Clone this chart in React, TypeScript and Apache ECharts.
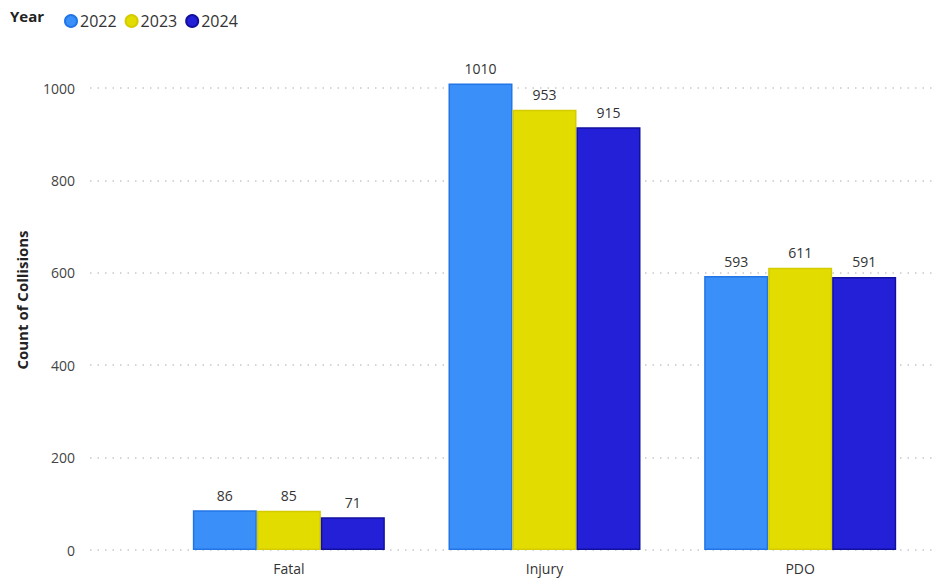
import React, { useEffect, useRef } from "react";
import * as echarts from "echarts";

const categories = ["Fatal", "Injury", "PDO"];
const years = ["2022", "2023", "2024"];
const values2022 = [86, 1010, 593];
const values2023 = [85, 953, 611];
const values2024 = [71, 915, 591];
const yTicks = [0, 200, 400, 600, 800, 1000];

const colors = ["#3a8ff8", "#e3dc00", "#2420d8"];
const borders = ["#2275e6", "#d4cc00", "#12109e"];

export default function App() {
  const ref = useRef<HTMLDivElement>(null);
  useEffect(() => {
    if (!ref.current) return;
    const chart = echarts.init(ref.current, undefined, { renderer: "svg" });
    const font = "'Open Sans', 'Noto Sans', sans-serif";
    const seriesData = [values2022, values2023, values2024];
    chart.setOption({
      animation: false,
      textStyle: { fontFamily: font },
      graphic: [
        {
          type: "text",
          left: 10,
          top: 8,
          style: { text: "Year", font: `bold 15px ${font}`, fill: "#222" },
        },
        {
          type: "text",
          x: 22,
          y: 300,
          rotation: Math.PI / 2,
          style: {
            text: "Count of Collisions",
            font: `bold 15px ${font}`,
            fill: "#222",
            align: "center",
            verticalAlign: "middle",
          },
        },
      ],
      legend: {
        left: 59,
        top: 8,
        icon: "circle",
        itemWidth: 12,
        itemHeight: 12,
        itemGap: 8,
        textStyle: { fontSize: 16, color: "#333", fontFamily: font, padding: [0, 0, 0, -2] },
        data: years,
      },
      grid: [
        { left: 90, right: 6, top: 88, bottom: 34 },
        { left: 161, right: 12, top: 550 - 1.1 * 462, bottom: 34 },
      ],
      xAxis: [
        { gridIndex: 0, type: "category", data: categories, show: false },
        {
          gridIndex: 1,
          type: "category",
          data: categories,
          axisLine: { show: false },
          axisTick: { show: false },
          axisLabel: { fontSize: 14, color: "#333", margin: 11, fontFamily: font },
        },
      ],
      yAxis: [
        {
          gridIndex: 0,
          type: "value",
          min: 0,
          max: 1000,
          interval: 200,
          axisLine: { show: false },
          axisTick: { show: false },
          axisLabel: {
            fontSize: 14,
            color: "#444",
            margin: 15,
            fontFamily: font,
            formatter: (v: number) => (yTicks.includes(v) ? String(v) : ""),
          },
          splitLine: { lineStyle: { color: "#c8c8c8", type: [1.5, 6], width: 1.5 } },
        },
        {
          gridIndex: 1,
          type: "value",
          min: 0,
          max: 1100,
          show: false,
          splitLine: { show: false },
        },
      ],
      series: years.map((y, i) => ({
        name: y,
        type: "bar",
        xAxisIndex: 1,
        yAxisIndex: 1,
        data: seriesData[i],
        barWidth: 64,
        barGap: "0%",
        itemStyle: { color: colors[i], borderColor: borders[i], borderWidth: 1.5 },
        label: {
          show: true,
          position: "top",
          distance: 8,
          fontSize: 14,
          color: "#333",
          fontFamily: font,
        },
      })),
    });
    return () => chart.dispose();
  }, []);
  return <div ref={ref} style={{ width: 940, height: 584, position: "absolute", left: 0, top: 0 }} />;
}
